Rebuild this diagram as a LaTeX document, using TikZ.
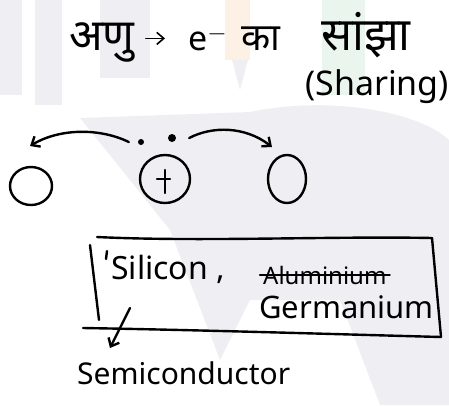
\documentclass[tikz,border=0pt]{standalone}
\usepackage{fontspec}
\setmainfont{Noto Sans}
\newfontfamily\devfont[Script=Devanagari]{Noto Sans}
\usetikzlibrary{calc,arrows.meta,shapes.geometric}

\definecolor{wmgray}{RGB}{239,239,243}
\definecolor{wmorange}{RGB}{253,240,229}
\definecolor{wmgreen}{RGB}{233,245,237}

\begin{document}
\begin{tikzpicture}[x=1pt,y=-1pt,line width=2.4pt,line cap=round,line join=round]
            \tikzstyle{every node}=[inner sep=0pt,anchor=base west]
            \tikzstyle{atom}=[draw,ellipse,anchor=center,line width=2.4pt]
            \tikzstyle{dot}=[fill,circle,anchor=center]
            \tikzstyle{hand}=[-{Straight Barb[length=7pt,width=12pt]}]
            \useasboundingbox (0,0) rectangle (449,405);
            % faint logo behind the notes
            \fill[wmgray] (0,0) rectangle (22,95);
            \fill[wmgray] (35,0) rectangle (62,105);
            \fill[wmgray] (100,0) rectangle (150,78);
            \fill[wmorange] (225,0) rectangle (250,60);
            \fill[wmgray] (232,60) -- (248,60) -- (240,90) -- cycle;
            \fill[wmgreen] (322,0) rectangle (365,95);
            \fill[wmgray] (80,118) -- (250,112) .. controls (330,95) and (420,112) .. (449,140)
                -- (449,405) -- (380,405) -- (340,300) -- (250,300) -- (220,360) -- (170,230) -- cycle;
            % heading
            \node (t1) at (68,50) {\devfont\fontsize{44}{50}\selectfont अणु};
            \node (e1) at (187,50) {\fontsize{34}{40}\selectfont e$^{-}$};
            \node (t2) at (240,50) {\devfont\fontsize{38}{44}\selectfont का};
            \node (t3) at (320,50) {\devfont\fontsize{46}{52}\selectfont सांझा};
            \node (sh) at (304,95) {\fontsize{34}{40}\selectfont (Sharing)};
            \draw[hand,line width=1.6pt] ($(t1.east |- e1.center)+(10,0)$) -- ($(e1.west)+(-22,0)$);
            % shared pair of electrons
            \node[dot,minimum size=6pt] (d1) at (141,142) {};
            \node[dot,minimum size=8pt] (d2) at (172,138) {};
            \coordinate (a1) at (30,146);
            \coordinate (a2) at (272,147);
            \draw[hand] ($(d1.west)+(-8,0)$) .. controls (100,128) and (60,128) .. (a1);
            \draw[hand] ($(d2.east)+(12,0)$) .. controls (212,126) and (245,126) .. (a2);
            % atoms
            \node[atom,minimum width=42pt,minimum height=38pt] (c1) at (31,186) {};
            \node[atom,minimum width=50pt,minimum height=48pt] (c2) at (165,179) {};
            \node[atom,minimum width=38pt,minimum height=48pt] (c3) at (287,179) {};
            \draw ($(c2)+(0,-9)$) -- ($(c2)+(0,14)$);
            \draw ($(c2)+(-8,0)$) -- ($(c2)+(5,0)$);
            % box of elements
            \coordinate (b1) at (97,237);
            \coordinate (b2) at (432,238);
            \coordinate (b3) at (441,337);
            \coordinate (b4) at (83,328);
            \draw (b1) .. controls (200,242) and (330,236) .. (b2) -- (b3);
            \draw (b4) .. controls (200,330) and (330,334) .. (b3);
            \draw (90,245) -- (99,320);
            \draw (107,251) -- (106,259);
            \node (si) at (110,279) {\fontsize{32}{38}\selectfont Silicon ,};
            \node (al) at (262,284) {\fontsize{24}{30}\selectfont Aluminium};
            \draw ($(al.west)+(-2,0)$) -- ($(al.east)+(2,0)$);
            \node (ge) at (258,318) {\fontsize{31}{37}\selectfont Germanium};
            \coordinate (ar1) at (130,308);
            \coordinate (ar2) at (110,348);
            \draw[hand] (ar1) -- (ar2);
            \node (se) at (76,384) {\fontsize{30}{36}\selectfont Semiconductor};
        \end{tikzpicture}
\end{document}
